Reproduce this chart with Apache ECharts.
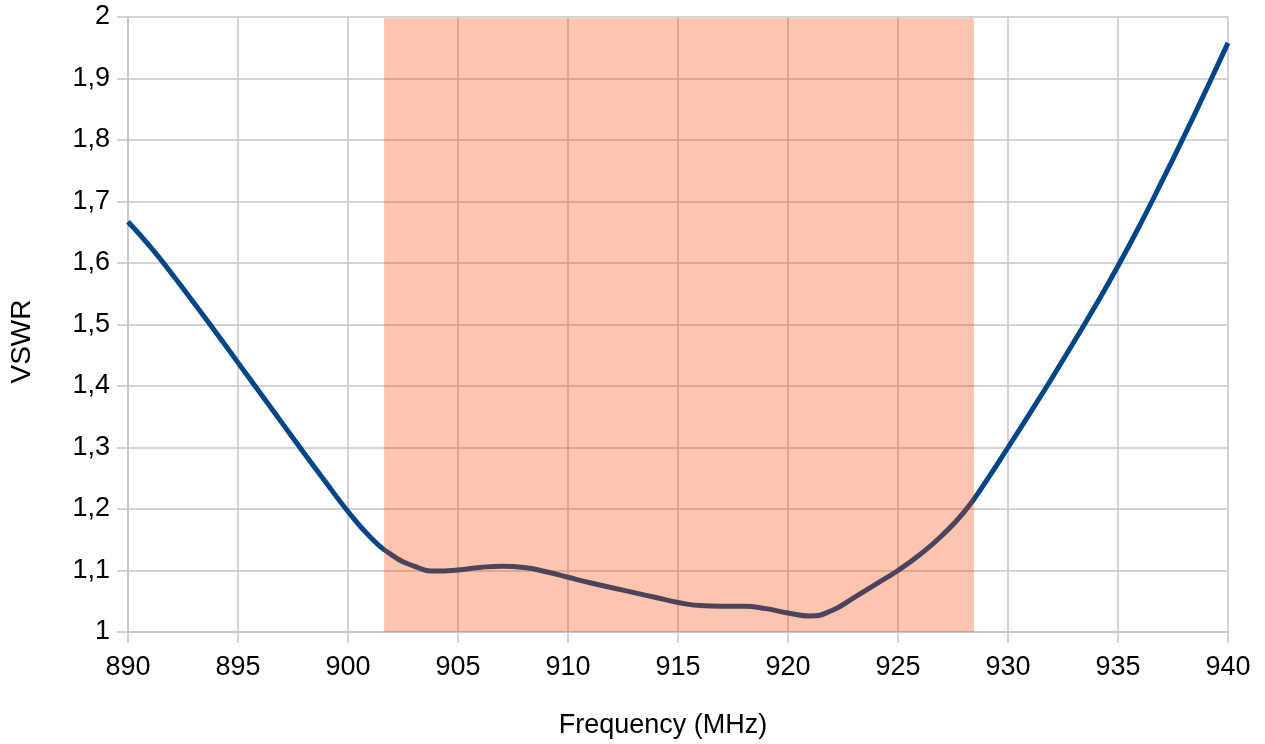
<!DOCTYPE html>
<html>
<head>
<meta charset="utf-8">
<script src="https://cdn.jsdelivr.net/npm/echarts@6/dist/echarts.min.js"></script>
<style>
html,body{margin:0;padding:0;background:#fff;}
#chart{width:1265px;height:744px;}
</style>
</head>
<body>
<div id="chart"></div>
<script>
const freqs = [890,891,892,893,894,895,896,897,898,899,900,901,902,903,904,905,906,907,908,909,910,911,912,913,914,915,916,917,918,919,920,921,922,923,924,925,926,927,928,929,930,931,932,933,934,935,936,937,938,939,940];
const vswr = [1.667,1.627,1.582,1.535,1.487,1.438,1.389,1.340,1.291,1.243,1.196,1.155,1.125,1.107,1.099,1.101,1.105,1.107,1.105,1.098,1.089,1.080,1.072,1.064,1.056,1.048,1.043,1.042,1.042,1.038,1.031,1.026,1.035,1.056,1.078,1.100,1.126,1.157,1.195,1.245,1.300,1.356,1.413,1.472,1.532,1.595,1.662,1.733,1.806,1.881,1.958];
const bandStart = 901.64;
const bandEnd = 928.45;
const xTicks = [890,895,900,905,910,915,920,925,930,935,940];
const yTicks = [1,1.1,1.2,1.3,1.4,1.5,1.6,1.7,1.8,1.9,2];

const chart = echarts.init(document.getElementById('chart'));
const gridColor = '#c4c4c4';
const font = 'Liberation Sans, Arial, sans-serif';
chart.setOption({
  animation: false,
  grid: {left:128, right:37, top:17, bottom:110},
  xAxis: {
    type:'value', min:890, max:940, interval:5,
    name:'Frequency (MHz)', nameLocation:'middle', nameGap:80,
    nameTextStyle:{fontFamily:font, fontSize:27, color:'#000', padding:[0,30,0,0]},
    axisLine:{show:true, lineStyle:{color:gridColor, width:1.5}},
    axisTick:{show:true, length:11, lineStyle:{color:gridColor, width:1.5}},
    axisLabel:{fontFamily:font, fontSize:27, color:'#000', margin:22,
      formatter: v => xTicks.includes(v) ? String(v) : ''},
    splitLine:{show:true, lineStyle:{color:gridColor, width:1.5}}
  },
  yAxis: {
    type:'value', min:1, max:2, interval:0.1,
    name:'VSWR', nameLocation:'middle', nameGap:92,
    nameTextStyle:{fontFamily:font, fontSize:28, color:'#000', padding:[0,34,0,0]},
    axisLine:{show:true, lineStyle:{color:gridColor, width:1.5}},
    axisTick:{show:true, length:11, lineStyle:{color:gridColor, width:1.5}},
    axisLabel:{fontFamily:font, fontSize:27, color:'#000', margin:18,
      formatter: v => {
        const r = Math.round(v*10)/10;
        const t = yTicks.find(k => Math.abs(k-r) < 1e-9);
        return t === undefined ? '' : String(t).replace('.', ',');
      }},
    splitLine:{show:true, lineStyle:{color:gridColor, width:1.5}}
  },
  series: [
    {
      type:'line', z:2,
      data: freqs.map((f,i) => [f, vswr[i]]),
      smooth: true, symbol:'none',
      lineStyle:{color:'#004586', width:5}
    },
    {
      type:'line', z:10, data:[], symbol:'none',
      markArea:{
        silent:true, z:20,
        itemStyle:{color:'rgba(248,68,0,0.31)'},
        data:[[{xAxis:bandStart, yAxis:1}, {xAxis:bandEnd, yAxis:1.998}]]
      }
    }
  ]
});
</script>
</body>
</html>
